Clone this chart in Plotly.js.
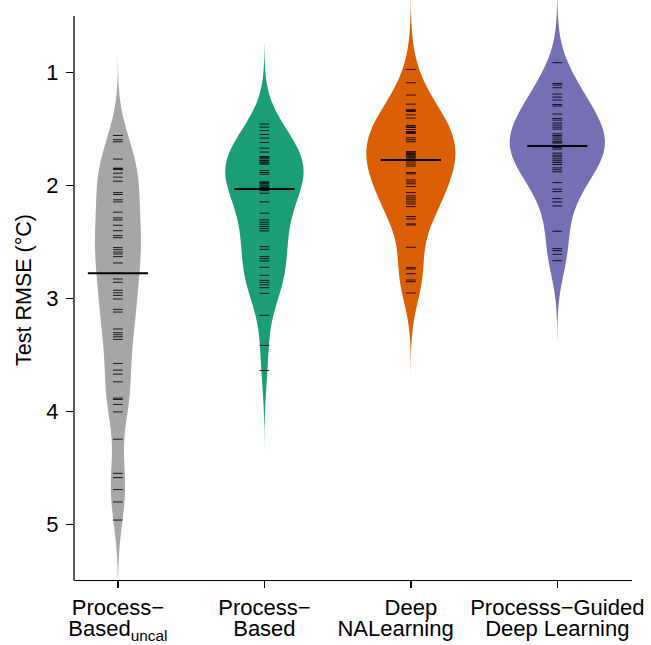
<!DOCTYPE html>
<html>
<head>
<meta charset="utf-8">
<script src="https://cdn.plot.ly/plotly-3.0.1.min.js"></script>
<style>html,body{margin:0;padding:0;background:#fff;}#chart{width:651px;height:645px;}</style>
</head>
<body>
<div id="chart"></div>
<script>
// Category labels (two lines each)
const labelLine1 = ["Process\u2212", "Process\u2212", "Deep", "Processs\u2212Guided"];
const labelLine2 = ["Based<sub>uncal</sub>", "Based", "NALearning\u00a0\u00a0\u00a0\u00a0\u00a0", "Deep Learning"];
// Test RMSE (°C) per model
const processBasedUncal = [1.556, 1.594, 1.612, 1.765, 1.845, 1.85, 1.858, 1.890, 1.925, 1.961, 2.062, 2.079, 2.126, 2.144, 2.235, 2.286, 2.304, 2.351, 2.399, 2.443, 2.461, 2.549, 2.567, 2.588, 2.605, 2.629, 2.685, 2.777, 2.827, 2.856, 2.927, 2.949, 2.972, 3.004, 3.096, 3.12, 3.270, 3.303, 3.321, 3.339, 3.362, 3.575, 3.634, 3.670, 3.738, 3.882, 3.894, 3.938, 4.004, 4.246, 4.548, 4.586, 4.692, 4.802, 4.962];
const processBased = [1.455, 1.482, 1.512, 1.547, 1.579, 1.618, 1.668, 1.703, 1.742, 1.75, 1.757, 1.774, 1.78, 1.792, 1.80, 1.810, 1.867, 1.884, 1.898, 1.967, 1.975, 1.984, 1.996, 2.005, 2.017, 2.031, 2.044, 2.067, 2.144, 2.244, 2.304, 2.324, 2.342, 2.363, 2.381, 2.401, 2.541, 2.564, 2.629, 2.647, 2.667, 2.723, 2.794, 2.839, 2.856, 2.878, 2.904, 2.954, 3.149, 3.415, 3.637];
const deepLearning = [0.971, 1.089, 1.198, 1.278, 1.328, 1.335, 1.343, 1.373, 1.402, 1.467, 1.48, 1.485, 1.503, 1.521, 1.53, 1.538, 1.576, 1.594, 1.612, 1.698, 1.705, 1.716, 1.725, 1.736, 1.745, 1.754, 1.765, 1.774, 1.792, 1.810, 1.827, 1.884, 1.896, 1.949, 1.967, 1.984, 2.008, 2.062, 2.091, 2.109, 2.126, 2.144, 2.162, 2.186, 2.274, 2.295, 2.339, 2.348, 2.546, 2.727, 2.738, 2.780, 2.836, 2.851, 2.951];
const processGuidedDL = [0.911, 1.095, 1.109, 1.133, 1.189, 1.216, 1.242, 1.281, 1.295, 1.366, 1.405, 1.420, 1.446, 1.464, 1.482, 1.499, 1.541, 1.556, 1.570, 1.588, 1.606, 1.615, 1.623, 1.650, 1.663, 1.677, 1.712, 1.730, 1.745, 1.763, 1.780, 1.796, 1.813, 1.843, 1.860, 1.878, 1.973, 2.031, 2.053, 2.115, 2.144, 2.180, 2.404, 2.558, 2.576, 2.608, 2.665];

const series = [processBasedUncal, processBased, deepLearning, processGuidedDL];
const colors = ["#a6a6a6", "#1b9e77", "#d95f02", "#7570b3"];
const widths = [0.314, 0.533, 0.608, 0.649];
const bwAdjust = 1.1;

function quantile(s, p) {
  const h = (s.length - 1) * p, lo = Math.floor(h);
  const hi = Math.min(lo + 1, s.length - 1);
  return s[lo] + (h - lo) * (s[hi] - s[lo]);
}
function nrd0(arr) {
  const s = arr.slice().sort((a, b) => a - b), n = s.length;
  const mean = s.reduce((a, b) => a + b, 0) / n;
  const sd = Math.sqrt(s.reduce((a, b) => a + (b - mean) * (b - mean), 0) / (n - 1));
  const iqr = quantile(s, 0.75) - quantile(s, 0.25);
  return 0.9 * Math.min(sd, iqr / 1.34) * Math.pow(n, -0.2);
}
// one common bandwidth computed from all observations (bean-plot style)
const allValues = [].concat(...series);
const bw = bwAdjust * nrd0(allValues);

const traces = [];
const medians = [];
series.forEach((vals, i) => {
  const s = vals.slice().sort((a, b) => a - b);
  medians.push(quantile(s, 0.5));
  traces.push({
    type: "violin",
    x0: i,
    y: vals,
    width: widths[i],
    bandwidth: bw,
    spanmode: "manual",
    span: [s[0] - 3 * bw, s[s.length - 1] + 3 * bw],
    scalemode: "width",
    fillcolor: colors[i],
    line: {width: 0, color: colors[i]},
    opacity: 1,
    points: "all",
    pointpos: 0,
    jitter: 0,
    marker: {symbol: "line-ew", size: 7, color: "rgba(0,0,0,0.85)", line: {width: 1, color: "rgba(0,0,0,0.85)"}},
    hoveron: "points",
    showlegend: false
  });
});
traces.push({
  type: "scatter",
  mode: "markers",
  x: [0, 1, 2, 3],
  y: medians,
  xaxis: "x2",
  marker: {symbol: "line-ew", size: 43, color: "#000", line: {width: 2, color: "#000"}},
  showlegend: false,
  hoverinfo: "y"
});

const fam = "Liberation Sans, Arial, sans-serif";
const tickFont = {family: fam, size: 22, color: "#000"};
const layout = {
  width: 651, height: 645,
  margin: {l: 74, r: 19, t: 0, b: 65},
  paper_bgcolor: "#fff", plot_bgcolor: "#fff",
  font: {family: fam, size: 21, color: "#000"},
  showlegend: false,
  xaxis: {
    range: [-0.3, 3.51],
    tickvals: [0, 1, 2, 3],
    ticktext: labelLine1,
    tickangle: 0,
    showgrid: false, zeroline: false,
    showline: true, linecolor: "#000", linewidth: 1.3,
    ticks: "outside", ticklen: 7, tickwidth: 1.3, tickcolor: "#000",
    tickfont: tickFont,
    ticklabelstandoff: 0,
    automargin: false
  },
  xaxis2: {
    overlaying: "x", anchor: "y", side: "bottom",
    range: [-0.3, 3.51],
    tickvals: [0, 1, 2, 3],
    ticktext: labelLine2,
    tickangle: 0,
    showgrid: false, zeroline: false, showline: false,
    ticks: "",
    tickfont: tickFont,
    ticklabelstandoff: 33,
    automargin: false
  },
  yaxis: {
    range: [5.493, 0.356],
    tickvals: [1, 2, 3, 4, 5],
    showgrid: false, zeroline: false,
    showline: false,
    ticks: "outside", ticklen: 7, tickwidth: 1.3, tickcolor: "#000",
    tickfont: tickFont,
    ticklabelstandoff: 3,
    automargin: false,
    title: {text: "Test RMSE (\u00b0C)", font: {family: fam, size: 21.5, color: "#000"}, standoff: 8}
  },
  shapes: [{
    type: "line", xref: "paper", yref: "y",
    x0: 0, x1: 0, y0: 0.498, y1: 5.493,
    line: {color: "#000", width: 1.3}
  }]
};
Plotly.newPlot("chart", traces, layout, {displayModeBar: false, staticPlot: true});
</script>
</body>
</html>
